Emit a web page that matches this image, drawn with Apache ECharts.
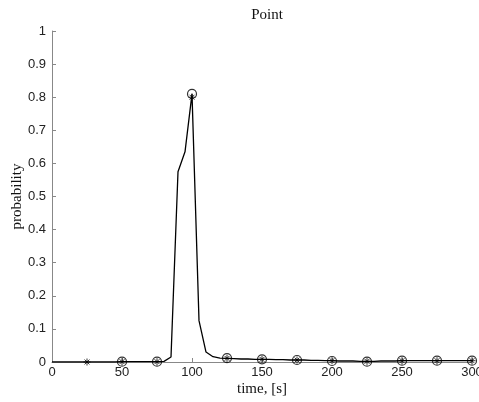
<!DOCTYPE html>
<html><head><meta charset="utf-8">
<script src="https://cdn.jsdelivr.net/npm/echarts@6/dist/echarts.min.js"></script>
<style>html,body{margin:0;padding:0;background:#fff}#c{width:479px;height:402px}</style>
</head><body><div id="c"></div>
<script>
var lineTimes = [0,5,10,15,20,25,30,35,40,45,50,55,60,65,70,75,80,85,90,95,100,105,110,115,120,125,130,135,140,145,150,155,160,165,170,175,180,185,190,195,200,205,210,215,220,225,230,235,240,245,250,255,260,265,270,275,280,285,290,295,300];
var lineValues = [0,0,0,0,0,0,0,0,0,0,0.001,0.001,0.001,0.001,0.001,0.001,0.002,0.015,0.575,0.635,0.81,0.125,0.03,0.016,0.012,0.011,0.010,0.009,0.009,0.008,0.008,0.008,0.007,0.007,0.006,0.006,0.006,0.005,0.005,0.004,0.004,0.003,0.003,0.003,0.002,0.002,0.002,0.003,0.003,0.003,0.004,0.004,0.004,0.004,0.004,0.004,0.004,0.004,0.004,0.004,0.004];
var starTimes = [25,50,75,100,125,150,175,200,225,250,275,300];
var starValues = [0,0.001,0.001,0.80,0.011,0.008,0.006,0.004,0.002,0.004,0.004,0.004];
var circleTimes = [50,75,100,125,150,175,200,225,250,275,300];
var circleValues = [0.001,0.001,0.81,0.012,0.008,0.006,0.003,0.001,0.004,0.004,0.004];
var titleText = 'Point';
var xName = 'time, [s]';
var yName = 'probability';

function pairs(xs, ys){ return xs.map(function(x,i){return [x, ys[i]];}); }
var star = 'path://M0,5L10,5M5,0L5,10M1.5,1.5L8.5,8.5M8.5,1.5L1.5,8.5';
var serif = 'Liberation Serif';
var sans = 'Liberation Sans';
var chart = echarts.init(document.getElementById('c'), null, {renderer:'canvas'});
chart.setOption({
  animation:false,
  backgroundColor:'#fff',
  title:{text:titleText, left:262, top:3, textAlign:'center',
    textStyle:{fontFamily:serif, fontSize:15, fontWeight:'normal', color:'#111'}},
  grid:{left:52, right:7, top:31, bottom:40, containLabel:false, outerBoundsMode:'none'},
  xAxis:{type:'value', min:0, max:300, interval:50,
    name:xName, nameLocation:'middle', nameGap:20, nameMoveOverlap:false,
    nameTextStyle:{fontFamily:serif, fontSize:15, color:'#111'},
    axisLine:{onZero:false, lineStyle:{color:'#888', width:1}},
    axisTick:{inside:true, length:4, lineStyle:{color:'#888'}},
    axisLabel:{fontFamily:sans, fontSize:13, color:'#222', margin:4},
    splitLine:{show:false}},
  yAxis:{type:'value', min:0, max:1, interval:0.1,
    name:yName, nameLocation:'middle', nameGap:27, nameRotate:90, nameMoveOverlap:false,
    nameTextStyle:{fontFamily:serif, fontSize:15, color:'#111'},
    axisLine:{show:true, lineStyle:{color:'#888', width:1}},
    axisTick:{show:true, inside:true, length:4, lineStyle:{color:'#888'}},
    axisLabel:{fontFamily:sans, fontSize:13, color:'#222', margin:6,
      formatter:function(v){return String(Math.round(v*10)/10);}},
    splitLine:{show:false}},
  series:[
    {type:'line', data:pairs(lineTimes,lineValues), showSymbol:false, symbol:'none',
      lineStyle:{color:'#000', width:1.3}, z:2},
    {type:'scatter', data:pairs(circleTimes,circleValues), symbol:'circle', symbolSize:9,
      itemStyle:{color:'rgba(0,0,0,0)', borderColor:'#000', borderWidth:1.2}, z:3},
    {type:'scatter', data:pairs(starTimes,starValues), symbol:star, symbolSize:7,
      itemStyle:{color:'none', borderColor:'#000', borderWidth:1}, z:4}
  ]
});
</script></body></html>
